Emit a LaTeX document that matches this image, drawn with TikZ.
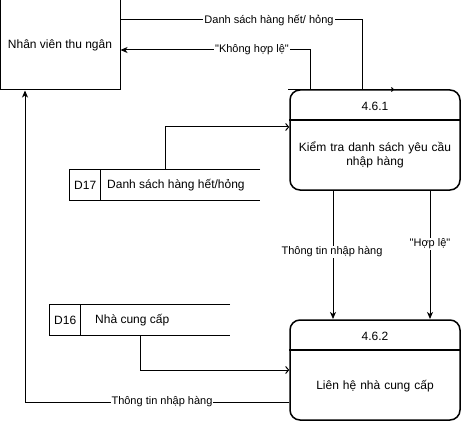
\documentclass[tikz,border=0pt]{standalone}
\usepackage{fontspec}
\setmainfont{Liberation Sans}[Ligatures=TeXOff]
\usetikzlibrary{arrows.meta}
\tikzset{
  ent/.style={draw, line width=1pt, minimum width=120pt, minimum height=90pt, inner sep=0pt, font=\fontsize{12}{14}\selectfont},
  proc/.style={draw, line width=1.5pt, rounded corners=10pt, minimum width=170pt, minimum height=100pt, inner sep=0pt},
  ptxt/.style={font=\fontsize{12}{14.5}\selectfont, align=center, text width=165pt},
  lbl/.style={fill=white, inner sep=1pt, font=\fontsize{11}{13}\selectfont},
  flow/.style={line width=1pt},
  fill arrow/.style={-{Stealth[length=7pt,width=6pt,inset=2pt]}},
  open arrow/.style={-{Straight Barb[length=3pt,width=7pt]}},
  stxt/.style={font=\fontsize{12}{14}\selectfont, inner sep=0pt, anchor=west}
}
\begin{document}
\begin{tikzpicture}[x=1pt,y=-1pt]
\useasboundingbox (0,0) rectangle (462,422);
\fill[white] (0,0) rectangle (462,422);
% external entity
\node[ent] (nv) at (60,45) {Nhân viên thu ngân};
% processes
\node[proc] (p1) at (375,140) {};
\draw[line width=1.3pt] (p1.west |- 0,120) -- (p1.east |- 0,120);
\node[ptxt] (p1id) at (375,106) {4.6.1};
\node[ptxt] (p1t) at (375,155) {Kiểm tra danh sách yêu cầu\\nhập hàng};
\node[proc] (p2) at (375,370) {};
\draw[line width=1.3pt] (p2.west |- 0,350) -- (p2.east |- 0,350);
\node[ptxt] (p2id) at (375,336) {4.6.2};
\node[ptxt] (p2t) at (375,386) {Liên hệ nhà cung cấp};
% data stores
\node[minimum width=190pt, minimum height=30pt, inner sep=0pt] (d17) at (165,185) {};
\draw[line width=1pt] (d17.north east) -- (d17.north west) -- (d17.south west) -- (d17.south east);
\draw[line width=1pt] (100,170) -- (100,200);
\node[stxt] (d17id) at (74,185) {D17};
\node[stxt] (d17t) at (107,185) {Danh sách hàng hết/hỏng};
\node[minimum width=180pt, minimum height=30pt, inner sep=0pt] (d16) at (140,320) {};
\draw[line width=1pt] (d16.north east) -- (d16.north west) -- (d16.south west) -- (d16.south east);
\draw[line width=1pt] (80,305) -- (80,335);
\node[stxt] (d16id) at (54,320) {D16};
\node[stxt] (d16t) at (95,320) {Nhà cung cấp};
% flows
\coordinate (c1) at (362,20);
\draw[flow] (nv.east |- c1) -- (c1) -- (c1 |- p1.north);
\node[lbl] (l1) at (269,20) {Danh sách hàng hết/ hỏng};
\draw[flow, -{Straight Barb[length=2pt,width=4pt]}] (288,89.5) -- (394,89.5);
\coordinate (c2) at (310,50);
\draw[flow, fill arrow] (c2 |- p1.north) -- (c2) -- (nv.east |- c2);
\node[lbl] (l2) at (252,50) {"Không hợp lệ"};
\draw[flow, open arrow] (d17.north) -- (165,127) -- (p1.west |- 0,127);
\draw[flow, fill arrow] (333,190) -- (333,319);
\node[lbl] (l3) at (332,252) {Thông tin nhập hàng};
\draw[flow, fill arrow] (430,190) -- (430,319);
\node[lbl] (l4) at (430,244) {"Hợp lệ"};
\draw[flow, open arrow] (140,335) -- (140,370) -- (p2.west |- 0,370);
\coordinate (c3) at (25,402);
\draw[flow, fill arrow] (p2.west |- c3) -- (c3) -- (c3 |- nv.south);
\node[lbl] (l5) at (162,402) {Thông tin nhập hàng};
\end{tikzpicture}
\end{document}
